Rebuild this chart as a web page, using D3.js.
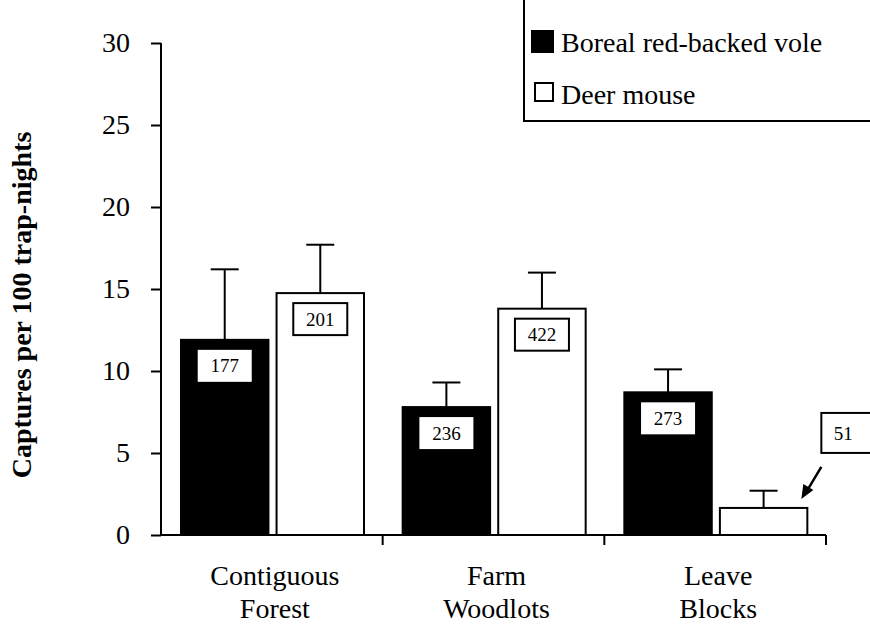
<!DOCTYPE html>
<html>
<head>
<meta charset="utf-8">
<title>captures per 100 trap-nights</title>
<script src="https://cdn.jsdelivr.net/npm/d3@7"></script>
<style>
  html, body { margin: 0; padding: 0; background: #fff; }
  svg { display: block; font-family: "Liberation Serif", "DejaVu Serif", serif; }
</style>
</head>
<body>
<svg id="chart" width="870" height="625"></svg>
<script>
// data
const habitats = ["Contiguous Forest", "Farm Woodlots", "Leave Blocks"];
const species = ["Boreal red-backed vole", "Deer mouse"];
const voleMeans = [11.9, 7.8, 8.7];
const voleUpper = [16.2, 9.3, 10.1];
const mouseMeans = [14.75, 13.8, 1.65];
const mouseUpper = [17.7, 16.0, 2.7];
const voleCounts = [177, 236, 273];
const mouseCounts = [201, 422, 51];
const yTicks = [0, 5, 10, 15, 20, 25, 30];

const rows = [];
habitats.forEach((h, i) => {
  rows.push({ habitat: h, sp: species[0], mean: voleMeans[i], upper: voleUpper[i], n: voleCounts[i] });
  rows.push({ habitat: h, sp: species[1], mean: mouseMeans[i], upper: mouseUpper[i], n: mouseCounts[i] });
});

const svg = d3.select("#chart");
const plotL = 161, plotR = 826, plotT = 43, plotB = 535;
const serif = "Liberation Serif, DejaVu Serif, serif";

const x = d3.scaleBand().domain(habitats).range([plotL, plotR]).padding(0);
const xs = d3.scaleBand().domain(species).range([20, 203]).paddingInner(0.085);
const y = d3.scaleLinear().domain([0, 30]).range([plotB, plotT]);
const fill = d3.scaleOrdinal().domain(species).range(["#000", "#fff"]);

// bars
const g = svg.append("g");
g.selectAll("rect.bar")
  .data(rows)
  .join("rect")
    .attr("class", "bar")
    .attr("x", d => x(d.habitat) + xs(d.sp))
    .attr("y", d => y(d.mean))
    .attr("width", xs.bandwidth())
    .attr("height", d => y(0) - y(d.mean))
    .attr("fill", d => fill(d.sp))
    .attr("stroke", "#000")
    .attr("stroke-width", 2);

// error bars (upper only)
const cx = d => x(d.habitat) + xs(d.sp) + xs.bandwidth() / 2;
g.selectAll("line.err")
  .data(rows)
  .join("line")
    .attr("class", "err")
    .attr("x1", cx).attr("x2", cx)
    .attr("y1", d => y(d.mean)).attr("y2", d => y(d.upper))
    .attr("stroke", "#000").attr("stroke-width", 2);
g.selectAll("line.cap")
  .data(rows)
  .join("line")
    .attr("class", "cap")
    .attr("x1", d => cx(d) - 14).attr("x2", d => cx(d) + 14)
    .attr("y1", d => y(d.upper)).attr("y2", d => y(d.upper))
    .attr("stroke", "#000").attr("stroke-width", 2);

// count labels inside the bars
const boxW = 54, boxH = 32;
const inside = rows.filter(d => d.mean > 5);
const lab = g.selectAll("g.lab").data(inside).join("g")
  .attr("class", "lab")
  .attr("transform", d => `translate(${cx(d)},${y(d.mean) + 26})`);
lab.append("rect")
  .attr("x", -boxW / 2).attr("y", -boxH / 2)
  .attr("width", boxW).attr("height", boxH)
  .attr("fill", "#fff")
  .attr("stroke", d => d.sp === species[0] ? "none" : "#000")
  .attr("stroke-width", 2);
lab.append("text")
  .attr("text-anchor", "middle")
  .attr("dy", "0.35em")
  .attr("font-family", serif)
  .attr("font-size", 19)
  .text(d => d.n);

// the small bar gets a callout box with an arrow
const small = rows.filter(d => d.mean <= 5);
small.forEach(d => {
  const bx = x(d.habitat) + xs(d.sp) + xs.bandwidth();
  const by = y(d.mean);
  svg.append("rect")
    .attr("x", bx + 14).attr("y", by - 95)
    .attr("width", 60).attr("height", 40)
    .attr("fill", "#fff").attr("stroke", "#000").attr("stroke-width", 2);
  svg.append("text")
    .attr("x", bx + 36).attr("y", by - 75)
    .attr("text-anchor", "middle").attr("dy", "0.35em")
    .attr("font-family", serif)
    .attr("font-size", 19)
    .text(d.n);
  svg.append("line")
    .attr("x1", bx + 14).attr("y1", by - 41)
    .attr("x2", bx - 1).attr("y2", by - 16)
    .attr("stroke", "#000").attr("stroke-width", 2.5);
  svg.append("path")
    .attr("d", `M${bx - 6},${by - 9} L${bx - 4},${by - 24} L${bx + 6},${by - 18} Z`)
    .attr("fill", "#000");
});

// y axis
const yAxis = svg.append("g")
  .attr("transform", `translate(${plotL},0)`)
  .call(d3.axisLeft(y).tickValues(yTicks).tickSize(10).tickPadding(21));
yAxis.select(".domain").attr("stroke-width", 2).attr("d", `M0,${plotT}V${plotB}`);
yAxis.selectAll(".tick line").attr("stroke-width", 2);
yAxis.selectAll(".tick text")
  .attr("font-family", serif)
  .attr("font-size", 28).attr("fill", "#000");

// x axis
const xAxis = svg.append("g")
  .attr("transform", `translate(0,${plotB})`)
  .call(d3.axisBottom(x).tickSize(0).tickFormat(""));
xAxis.select(".domain").attr("stroke-width", 2).attr("d", `M${plotL},0H${plotR}`);
xAxis.selectAll(".sep")
  .data(habitats)
  .join("line")
    .attr("class", "sep")
    .attr("x1", d => x(d) + x.bandwidth())
    .attr("x2", d => x(d) + x.bandwidth())
    .attr("y1", 0).attr("y2", 10)
    .attr("stroke", "#000").attr("stroke-width", 2);

// category labels, two lines each
const cat = svg.append("g").selectAll("text").data(habitats).join("text")
  .attr("y", 585)
  .attr("text-anchor", "middle")
  .attr("font-family", serif)
  .attr("font-size", 28);
cat.each(function(d) {
  const words = d.split(" ");
  d3.select(this).selectAll("tspan").data(words).join("tspan")
    .attr("x", x(d) + x.bandwidth() / 2 + 3)
    .attr("dy", (w, i) => i === 0 ? 0 : 33)
    .text(w => w);
});

// y title
svg.append("text")
  .attr("transform", "translate(31,305) rotate(-90)")
  .attr("text-anchor", "middle")
  .attr("font-family", serif)
  .attr("font-size", 28)
  .attr("font-weight", "bold")
  .text("Captures per 100 trap-nights");

// legend
const leg = svg.append("g");
leg.append("rect")
  .attr("x", 524).attr("y", -2).attr("width", 350).attr("height", 123)
  .attr("fill", "#fff").attr("stroke", "#000").attr("stroke-width", 2);
const items = leg.selectAll("g.item").data(species).join("g")
  .attr("class", "item")
  .attr("transform", (d, i) => `translate(532,${31 + i * 52})`);
items.append("rect")
  .attr("x", (d, i) => i ? 3 : 0).attr("y", 0)
  .attr("width", (d, i) => i ? 18 : 21).attr("height", (d, i) => i ? 18 : 21)
  .attr("fill", d => fill(d)).attr("stroke", "#000").attr("stroke-width", 2);
items.append("text")
  .attr("x", 29).attr("y", 21)
  .attr("font-family", serif)
  .attr("font-size", 28)
  .text(d => d);
</script>
</body>
</html>
